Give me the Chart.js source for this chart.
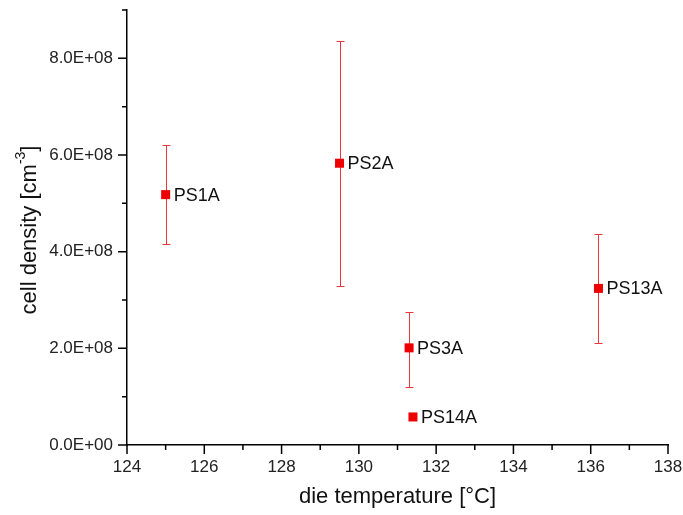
<!DOCTYPE html>
<html>
<head>
<meta charset="utf-8">
<script src="https://cdn.jsdelivr.net/npm/chart.js@4.4.1/dist/chart.umd.min.js"></script>
<style>
  html, body { margin: 0; padding: 0; background: #fff; }
  #wrap { width: 683px; height: 515px; }
</style>
</head>
<body>
<div id="wrap"><canvas id="chart"></canvas></div>
<script>
// sample names and values
const sampleNames = ['PS1A', 'PS2A', 'PS3A', 'PS14A', 'PS13A'];
const dieTemps = [125.0, 129.5, 131.3, 131.4, 136.2];
const cellDensity = [5.18e8, 5.83e8, 2.01e8, 0.58e8, 3.24e8];
const errHigh = [6.21e8, 8.36e8, 2.76e8, null, 4.37e8];
const errLow = [4.15e8, 3.28e8, 1.20e8, null, 2.11e8];

// axis ranges / ticks
const xTicksMajor = [124, 126, 128, 130, 132, 134, 136, 138];
const xTicksMinor = [125, 127, 129, 131, 133, 135, 137];
const yTicksMajor = [0, 2e8, 4e8, 6e8, 8e8];
const yTicksMinor = [1e8, 3e8, 5e8, 7e8, 9e8];

const FONT = '"Liberation Sans", Arial, sans-serif';
const RED = '#ee0000';

function sciLabel(v) {
  // 8.0E+08 style
  let [m, e] = Number(v).toExponential(1).split('e');
  let n = parseInt(e, 10);
  let sign = n < 0 ? '-' : '+';
  return m + 'E' + sign + String(Math.abs(n)).padStart(2, '0');
}

// error bars, point labels, tick marks, axis titles
const extrasPlugin = {
  id: 'extras',
  afterDatasetsDraw(chart) {
    const ctx = chart.ctx;
    const xs = chart.scales.x, ys = chart.scales.y;
    ctx.save();
    // error bars
    ctx.strokeStyle = '#e8383c';
    ctx.lineWidth = 1;
    dieTemps.forEach((t, i) => {
      if (errHigh[i] == null) return;
      const px = Math.round(xs.getPixelForValue(t)) + 0.5;
      const top = Math.round(ys.getPixelForValue(errHigh[i])) + 0.5;
      const bot = Math.round(ys.getPixelForValue(errLow[i])) + 0.5;
      ctx.beginPath();
      ctx.moveTo(px, top); ctx.lineTo(px, bot);
      ctx.moveTo(px - 4, top); ctx.lineTo(px + 4, top);
      ctx.moveTo(px - 4, bot); ctx.lineTo(px + 4, bot);
      ctx.stroke();
    });
    ctx.restore();
  },
  afterDraw(chart) {
    const ctx = chart.ctx;
    const xs = chart.scales.x, ys = chart.scales.y;
    const area = chart.chartArea;
    ctx.save();
    // markers over error bars
    ctx.fillStyle = RED;
    dieTemps.forEach((t, i) => {
      const px = xs.getPixelForValue(t);
      const py = ys.getPixelForValue(cellDensity[i]);
      ctx.fillRect(px - 4.5, py - 4.5, 9, 9);
    });
    // point labels
    ctx.fillStyle = '#111';
    ctx.font = '18px ' + FONT;
    ctx.textBaseline = 'middle';
    ctx.textAlign = 'left';
    sampleNames.forEach((name, i) => {
      const px = xs.getPixelForValue(dieTemps[i]);
      const py = ys.getPixelForValue(cellDensity[i]);
      ctx.fillText(name, px + 8, py + 1);
    });
    // tick marks (outward)
    ctx.strokeStyle = '#000';
    ctx.lineWidth = 1.5;
    ctx.beginPath();
    const yAx = area.left, xAx = area.bottom;
    yTicksMajor.forEach(v => { const p = ys.getPixelForValue(v); ctx.moveTo(yAx, p); ctx.lineTo(yAx - 9, p); });
    yTicksMinor.forEach(v => { const p = ys.getPixelForValue(v); ctx.moveTo(yAx, p); ctx.lineTo(yAx - 5, p); });
    xTicksMajor.forEach(v => { const p = xs.getPixelForValue(v); ctx.moveTo(p, xAx); ctx.lineTo(p, xAx + 9); });
    xTicksMinor.forEach(v => { const p = xs.getPixelForValue(v); ctx.moveTo(p, xAx); ctx.lineTo(p, xAx + 5); });
    ctx.stroke();
    // x title
    ctx.fillStyle = '#111';
    ctx.font = '22px ' + FONT;
    ctx.textAlign = 'center';
    ctx.textBaseline = 'middle';
    ctx.fillText('die temperature [°C]', (area.left + area.right) / 2, 497);
    // y title with superscript
    ctx.translate(30, 230);
    ctx.rotate(-Math.PI / 2);
    const main = 'cell density [cm';
    const sup = '-3';
    const end = ']';
    ctx.font = '22px ' + FONT;
    const wMain = ctx.measureText(main).width;
    const wEnd = ctx.measureText(end).width;
    ctx.font = '14px ' + FONT;
    const wSup = ctx.measureText(sup).width;
    let x0 = -(wMain + wSup + wEnd) / 2;
    ctx.textAlign = 'left';
    ctx.font = '22px ' + FONT;
    ctx.fillText(main, x0, 0);
    ctx.font = '14px ' + FONT;
    ctx.fillText(sup, x0 + wMain, -9);
    ctx.font = '22px ' + FONT;
    ctx.fillText(end, x0 + wMain + wSup, 0);
    ctx.restore();
  }
};

new Chart(document.getElementById('chart').getContext('2d'), {
  type: 'scatter',
  data: {
    datasets: [{
      label: 'cell density',
      data: dieTemps.map((t, i) => ({ x: t, y: cellDensity[i] })),
      pointStyle: 'rect',
      pointRadius: 0,
      backgroundColor: RED,
      borderColor: RED
    }]
  },
  options: {
    responsive: true,
    maintainAspectRatio: false,
    animation: false,
    layout: { padding: { top: 10, right: 15, left: 0, bottom: 0 } },
    plugins: {
      legend: { display: false },
      tooltip: { enabled: false }
    },
    scales: {
      x: {
        type: 'linear',
        min: 124,
        max: 138,
        afterBuildTicks: scale => { scale.ticks = xTicksMajor.map(v => ({ value: v })); },
        afterFit: scale => {
          scale.height = 70;
          scale.paddingLeft = 0;
          scale.paddingRight = 0;
        },
        grid: { display: false, drawTicks: false },
        border: { display: true, color: '#000', width: 1.5 },
        ticks: {
          padding: 12,
          color: '#222',
          font: { family: FONT, size: 17 },
          maxRotation: 0
        }
      },
      y: {
        type: 'linear',
        min: 0,
        max: 9e8,
        afterBuildTicks: scale => { scale.ticks = yTicksMajor.map(v => ({ value: v })); },
        afterFit: scale => {
          scale.width = 127;
          scale.paddingTop = 0;
          scale.paddingBottom = 0;
        },
        grid: { display: false, drawTicks: false },
        border: { display: true, color: '#000', width: 1.5 },
        ticks: {
          padding: 14,
          color: '#222',
          font: { family: FONT, size: 17 },
          callback: v => sciLabel(v)
        }
      }
    }
  },
  plugins: [extrasPlugin]
});
</script>
</body>
</html>
